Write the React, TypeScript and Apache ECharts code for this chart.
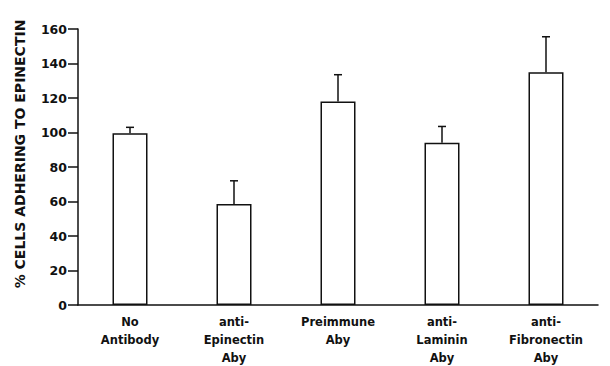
import React, { useEffect, useRef } from "react";
import * as echarts from "echarts";

const categories = [
  "No\nAntibody",
  "anti-\nEpinectin\nAby",
  "Preimmune\nAby",
  "anti-\nLaminin\nAby",
  "anti-\nFibronectin\nAby",
];
const means = [99.5, 58.5, 118, 94, 135];
const errorTops = [103, 72, 133.5, 103.5, 155.5];
const yTicks = { min: 0, max: 160, interval: 20 };
const yTitle = "% CELLS ADHERING TO EPINECTIN";

export default function App() {
  const ref = useRef<HTMLDivElement>(null);
  useEffect(() => {
    if (!ref.current) return;
    const chart = echarts.init(ref.current, undefined, { renderer: "svg" });
    const font = "DejaVu Sans";
    chart.setOption({
      animation: false,
      backgroundColor: "#fff",
      grid: { left: 70, right: 4, top: 21, bottom: 61, outerBoundsMode: "none", containLabel: false },
      graphic: [
        {
          type: "text",
          x: 12,
          y: 146,
          rotation: Math.PI / 2,
          style: {
            text: yTitle,
            fill: "#111",
            font: `bold 14px "${font}"`,
            align: "center",
            verticalAlign: "middle",
          },
        },
      ],
      xAxis: {
        type: "category",
        data: categories,
        axisLine: { lineStyle: { color: "#111", width: 1.5 } },
        axisTick: { show: false },
        axisLabel: {
          color: "#111",
          fontFamily: font,
          fontWeight: "bold",
          fontSize: 11.5,
          lineHeight: 18,
          margin: 8,
          interval: 0,
        },
      },
      yAxis: {
        type: "value",
        min: yTicks.min,
        max: yTicks.max,
        interval: yTicks.interval,
        axisLine: { show: true, lineStyle: { color: "#111", width: 1.5 } },
        axisTick: { show: true, inside: false, length: 10, lineStyle: { color: "#111", width: 1.5 } },
        splitLine: { show: false },
        axisLabel: {
          color: "#111",
          fontFamily: font,
          fontWeight: "bold",
          fontSize: 12.5,
          margin: 11,
        },
      },
      series: [
        {
          type: "bar",
          data: means,
          barWidth: 35,
          itemStyle: { color: "#fff", borderColor: "#111", borderWidth: 1.5 },
          z: 2,
        },
        {
          type: "custom",
          z: 3,
          data: means.map((m, i) => [i, m, errorTops[i]]),
          renderItem: (params: any, api: any) => {
            const i = api.value(0);
            const p0 = api.coord([i, api.value(1)]);
            const p1 = api.coord([i, api.value(2)]);
            const cap = 4;
            return {
              type: "group",
              children: [
                {
                  type: "line",
                  shape: { x1: p0[0], y1: p0[1], x2: p1[0], y2: p1[1] },
                  style: { stroke: "#111", lineWidth: 1.5 },
                },
                {
                  type: "line",
                  shape: { x1: p1[0] - cap, y1: p1[1], x2: p1[0] + cap, y2: p1[1] },
                  style: { stroke: "#111", lineWidth: 1.5 },
                },
              ],
            };
          },
        },
      ],
    });
    return () => chart.dispose();
  }, []);
  return <div ref={ref} style={{ width: 594, height: 358 }} />;
}
